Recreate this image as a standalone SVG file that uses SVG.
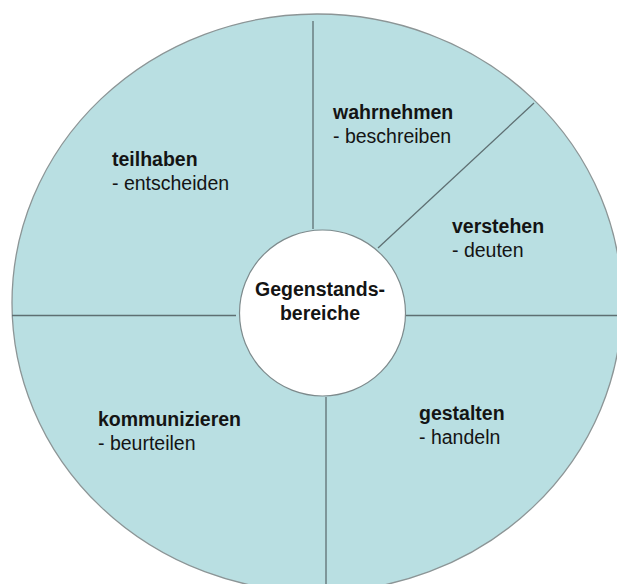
<svg xmlns="http://www.w3.org/2000/svg" width="617" height="584" viewBox="0 0 617 584">
<style>
.bg{fill:#ffffff}
.wheel{fill:#b9dfe2;stroke:#8c9596;stroke-width:1.3}
.hub{fill:#ffffff;stroke:#7d8a8c;stroke-width:1.2}
.div{stroke:#5e6f72;stroke-width:1.3;fill:none}
text{font-family:"Liberation Sans",Arial,sans-serif;font-size:19.5px;fill:#141414}
.b{font-weight:bold}
</style>
<rect class="bg" x="0" y="0" width="617" height="584"/>
<g id="wheel">
<ellipse class="wheel" cx="317" cy="303" rx="305" ry="289"/>
</g>
<g id="dividers">
<line class="div" x1="313" y1="21" x2="313" y2="229"/>
<line class="div" x1="534" y1="103" x2="378" y2="248"/>
<line class="div" x1="12" y1="315.5" x2="236" y2="315.5"/>
<line class="div" x1="405" y1="315.5" x2="617" y2="315.5"/>
<line class="div" x1="326" y1="397" x2="326" y2="584"/>
</g>
<g id="hub">
<circle class="hub" cx="322.5" cy="313" r="83"/>
<text class="b" x="320" y="296" text-anchor="middle">Gegenstands-</text>
<text class="b" x="320" y="320" text-anchor="middle">bereiche</text>
</g>
<g id="teilhaben">
<text class="b" x="112" y="166">teilhaben</text>
<text x="112" y="190">- entscheiden</text>
</g>
<g id="wahrnehmen">
<text class="b" x="333" y="119">wahrnehmen</text>
<text x="333" y="143">- beschreiben</text>
</g>
<g id="verstehen">
<text class="b" x="452" y="233">verstehen</text>
<text x="452" y="257">- deuten</text>
</g>
<g id="kommunizieren">
<text class="b" x="98" y="426">kommunizieren</text>
<text x="98" y="450">- beurteilen</text>
</g>
<g id="gestalten">
<text class="b" x="419" y="420">gestalten</text>
<text x="419" y="444">- handeln</text>
</g>
</svg>
